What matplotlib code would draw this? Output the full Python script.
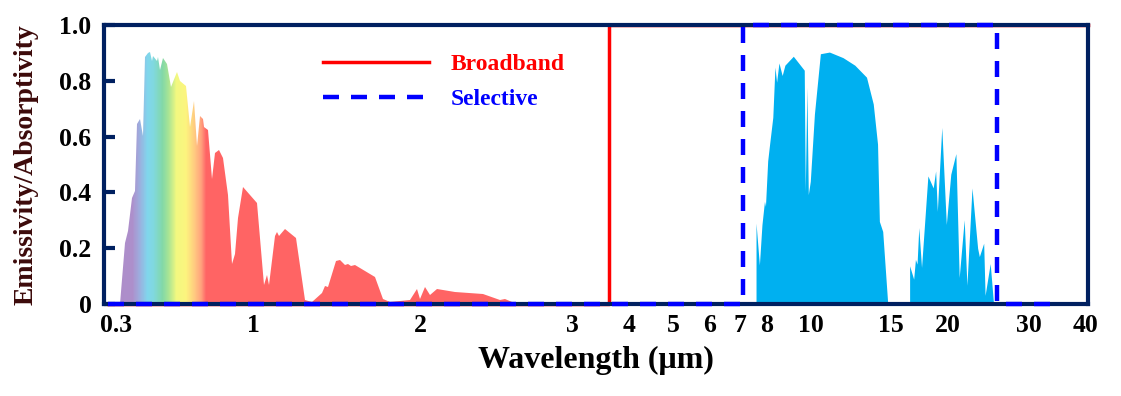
import numpy as np
import matplotlib
matplotlib.use("Agg")
import matplotlib.pyplot as plt
from matplotlib.colors import LinearSegmentedColormap, Normalize
from matplotlib.ticker import FixedLocator, NullLocator

# solar spectrum (normalised)
solar_wl = [0.311, 0.325, 0.334, 0.344, 0.355, 0.362, 0.371, 0.379, 0.387, 0.398,
            0.404, 0.411, 0.416, 0.429, 0.435, 0.442, 0.454, 0.468, 0.485, 0.511,
            0.527, 0.555, 0.575, 0.596, 0.610, 0.628, 0.643, 0.652, 0.675, 0.696,
            0.719, 0.744, 0.768, 0.803, 0.834, 0.854, 0.879, 0.913, 1.015, 1.047,
            1.059, 1.069, 1.096, 1.103, 1.114, 1.142, 1.193, 1.243, 1.280, 1.330,
            1.346, 1.365, 1.414, 1.435, 1.465, 1.483, 1.500, 1.527, 1.659, 1.718,
            1.766, 1.919, 1.973, 2.000, 2.027, 2.054, 2.091, 2.196, 2.368, 2.476,
            2.509, 2.553, 2.612]
solar_val = [0.0, 0.217, 0.26, 0.38, 0.404, 0.646, 0.664, 0.603, 0.886, 0.898,
             0.903, 0.87, 0.89, 0.87, 0.886, 0.84, 0.88, 0.86, 0.777, 0.832,
             0.80, 0.783, 0.633, 0.729, 0.567, 0.675, 0.664, 0.633, 0.625, 0.449,
             0.543, 0.553, 0.525, 0.389, 0.144, 0.18, 0.31, 0.42, 0.362, 0.067,
             0.105, 0.067, 0.242, 0.257, 0.242, 0.27, 0.238, 0.015, 0.008, 0.04,
             0.065, 0.062, 0.155, 0.158, 0.14, 0.145, 0.135, 0.14, 0.097, 0.019,
             0.007, 0.013, 0.052, 0.019, 0.06, 0.034, 0.055, 0.042, 0.037, 0.013,
             0.019, 0.007, 0.0]

# atmospheric window transmittance
ir_wl = [7.59, 7.59, 7.72, 7.82, 7.92, 7.96, 8.05, 8.12, 8.26, 8.35,
         8.42, 8.52, 8.66, 8.78, 9.16, 9.68, 9.73, 9.81, 9.88, 9.98,
         10.19, 10.50, 10.99, 11.77, 12.49, 13.25, 13.71, 14.01, 14.14, 14.38,
         14.75, 16.47, 16.47, 16.81, 16.96, 17.10, 17.25, 17.49, 18.06, 18.55,
         18.78, 18.94, 19.37, 19.82, 20.27, 20.80, 21.15, 21.69, 21.99, 22.56,
         23.21, 23.41, 23.93, 24.10, 24.73, 25.15]
ir_val = [0.0, 0.29, 0.14, 0.284, 0.368, 0.35, 0.513, 0.567, 0.669, 0.849,
          0.795, 0.864, 0.819, 0.856, 0.888, 0.838, 0.404, 0.777, 0.392, 0.44,
          0.681, 0.897, 0.903, 0.883, 0.856, 0.813, 0.717, 0.573, 0.296, 0.26,
          0.0, 0.0, 0.137, 0.089, 0.16, 0.143, 0.274, 0.131, 0.459, 0.416,
          0.477, 0.332, 0.633, 0.285, 0.465, 0.539, 0.095, 0.302, 0.067, 0.416,
          0.2, 0.17, 0.218, 0.031, 0.145, 0.0]

# ideal emitters
bb_wl = [0.28, 3.62, 3.62, 40.5]
bb_val = [0, 0, 1, 1]
sel_wl = [0.28, 7.1, 7.1, 25.6, 25.6, 34.5]
sel_val = [0, 0, 1, 1, 0, 0]

xticks = [0.3, 1, 2, 3, 4, 5, 6, 7, 8, 10, 15, 20, 30, 40]
yticks = [0, 0.2, 0.4, 0.6, 0.8, 1.0]
ytick_labels = ['0', '0.2', '0.4', '0.6', '0.8', '1.0']

# broken axis: stretched solar part, log scale above 3 um
scale_wl = np.log10([0.27, 0.3, 1, 2, 3, 40.5])
scale_pos = [104, 116, 253, 420, 572, 1088]


def fwd(x):
    x = np.clip(np.asarray(x, dtype=float), 1e-3, None)
    return np.interp(np.log10(x), scale_wl, scale_pos)


def inv(p):
    return 10 ** np.interp(p, scale_pos, scale_wl)


navy = '#002060'
serif = 'Liberation Serif'
plt.rcParams['font.family'] = serif
plt.rcParams['font.weight'] = 'bold'

fig = plt.figure(figsize=(11.21, 3.96), dpi=100)
ax = fig.add_axes([104 / 1121, 1 - 304 / 396, 984 / 1121, 279 / 396])
ax.set_xscale('function', functions=(fwd, inv))
ax.set_xlim(0.27, 40.5)
ax.set_ylim(0, 1)

# solar spectrum with rainbow gradient in the visible
spec = LinearSegmentedColormap.from_list('spec', [
    (0.0, '#ad8cc8'), (0.125, '#ad8fcb'), (0.18, '#9fa9dc'),
    (0.264, '#80d6ec'), (0.32, '#80d8e0'), (0.417, '#82d8a8'),
    (0.486, '#a8e494'), (0.583, '#f2f880'), (0.708, '#fcf47e'),
    (0.833, '#ffc880'), (0.93, '#ffa07c'), (1.0, '#ff6868')])
spec.set_over('#ff6464')
solar_poly = ax.fill_between(solar_wl, 0, solar_val, facecolor='none', lw=0)
edges = np.geomspace(0.3, 2.7, 500)
centers = np.sqrt(edges[:-1] * edges[1:])
mesh = ax.pcolormesh(edges, [0, 1], centers[None, :], cmap=spec,
                     norm=Normalize(0.3, 0.66), zorder=1)
mesh.set_clip_path(solar_poly.get_paths()[0], ax.transData)

ax.fill_between(ir_wl, 0, ir_val, color='#00b0f0', lw=0, zorder=1)

ax.plot(bb_wl, bb_val, color='red', lw=2.5, label='Broadband', zorder=2,
        clip_on=False)
ax.plot(sel_wl, sel_val, color='blue', lw=3.2, ls=(0, (3.6, 2.7)),
        label='Selective', zorder=3, clip_on=False)

leg = ax.legend(loc='upper left', bbox_to_anchor=(0.2104, 0.939), frameon=False,
                borderpad=0, handlelength=4.5, handletextpad=0.9,
                labelspacing=0.55, prop={'family': serif, 'weight': 'bold', 'size': 17},
                labelcolor='linecolor')

for s in ax.spines.values():
    s.set_color(navy)
    s.set_linewidth(3)

ax.xaxis.set_major_locator(FixedLocator(xticks))
ax.xaxis.set_minor_locator(NullLocator())
ax.set_xticklabels([str(t) for t in xticks])
ax.set_yticks(yticks)
ax.set_yticklabels(ytick_labels)
ax.tick_params(axis='x', length=0, pad=7, labelsize=18.5)
ax.tick_params(axis='y', direction='in', length=8, width=3, color=navy,
               pad=9, labelsize=18.5)
for lab in ax.get_xticklabels() + ax.get_yticklabels():
    lab.set_fontweight('bold')

ax.set_xlabel('Wavelength (μm)', fontsize=23, fontweight='bold')
ax.xaxis.set_label_coords(0.5, -0.15)
ax.set_ylabel('Emissivity/Absorptivity', fontsize=20, fontweight='bold', color='#3c0a0a')
ax.yaxis.set_label_coords(-0.066, 0.5)

fig.savefig('out.png', dpi=100)
